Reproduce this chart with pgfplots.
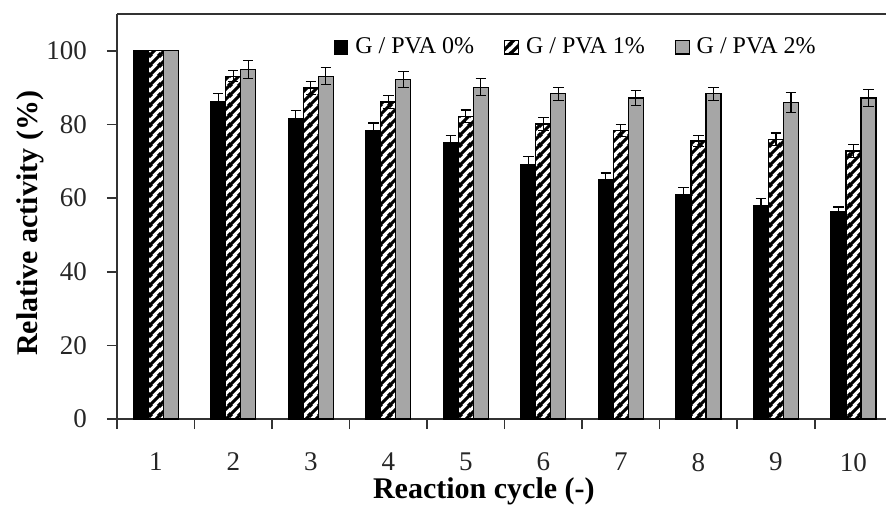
\documentclass[border=0pt]{standalone}
\usepackage{fontspec}
\setmainfont{Liberation Serif}
\usepackage{pgfplots}
\usepackage{pgfplotstable}
\pgfplotsset{compat=1.18}
\usetikzlibrary{patterns.meta}

\tikzdeclarepattern{
  name=thickstripes,
  bounding box={(0,0) and (5pt,5pt)},
  tile size={(5pt,5pt)},
  code={
    \draw[line width=1.7pt] (-1pt,-1pt) -- (6pt,6pt);
    \draw[line width=1.7pt] (-1pt,4pt) -- (1pt,6pt);
    \draw[line width=1.7pt] (4pt,-1pt) -- (6pt,1pt);
  }
}

\definecolor{bargray}{RGB}{166,166,166}

% cycle, mean and error for each PVA content
\pgfplotstableread{
cycle a   ea  b    eb  c    ec
1   100.0 0.0 100.0 0.0 100.0 0.0
2   86.2  2.2 93.1  1.5 94.9  2.5
3   81.5  2.2 89.9  1.8 93.1  2.3
4   78.2  2.2 86.1  1.7 92.2  2.2
5   75.1  2.0 82.2  1.7 90.1  2.3
6   69.0  2.2 80.1  1.8 88.3  1.8
7   65.1  1.7 78.3  1.6 87.2  2.0
8   61.0  1.9 75.5  1.5 88.3  1.8
9   58.0  1.9 76.0  1.7 86.0  2.7
10  56.3  1.3 72.8  1.7 87.2  2.4
}\datatable

\begin{document}
\begin{tikzpicture}
\path[use as bounding box] (-58.5pt,-47.5pt) rectangle (384.5pt,209.5pt);
\begin{axis}[
    at={(0,0)}, anchor=south west,
    scale only axis,
    width=384.5pt, height=202.5pt,
    xmin=0.5, xmax=10.42,
    ymin=0, ymax=110,
    axis x line=box, axis y line*=left,
    axis line style={line width=0.8pt, black!80, -},
    ybar=0pt, bar width=7.5pt,
    xtick={1,...,10},
    major x tick style={draw=none},
    minor xtick={0.5,1.5,...,9.5},
    minor x tick style={line width=0.8pt, black!80},
    minor tick length=5pt,
    xtick pos=bottom,
    ytick={0,20,...,100},
    ytick pos=left,
    ytick style={line width=0.8pt, black!80},
    major tick length=5pt,
    tick align=outside,
    /pgf/number format/assume math mode=true,
    ticklabel style={font=\fontsize{13.5}{13.5}\selectfont, black!85},
    xticklabel style={yshift=-8.5pt},
    yticklabel style={xshift=-6.5pt},
    xlabel={\textbf{Reaction cycle (-)}},
    ylabel={\textbf{Relative activity (\%)}},
    label style={font=\fontsize{15}{15}\selectfont},
    xlabel style={at={(axis description cs:0.477,0)}, anchor=north, yshift=-26pt},
    ylabel style={at={(axis description cs:-0.1131,0.483)}, anchor=center},
    error bars/y dir=both, error bars/y explicit,
    error bars/error bar style={line width=0.6pt},
    error bars/error mark options={rotate=90, mark size=2.6pt, line width=0.6pt},
    legend style={at={(axis description cs:0.281,0.918)}, anchor=west,
        draw=none, fill=none, inner sep=0pt,
        font=\fontsize{12}{12}\selectfont,
        /tikz/every odd column/.append style={column sep=1.5pt},
        /tikz/every even column/.append style={column sep=13pt}},
    legend columns=3,
    legend image code/.code={\draw[#1] (0pt,-3.4pt) rectangle (6.8pt,3.4pt);},
]
\addplot[draw=black, line width=0.6pt, fill=black]
    table[x=cycle, y=a, y error=ea] {\datatable};
\addlegendentry{G / PVA 0\%}
\addplot[draw=black, line width=0.6pt, fill=white, pattern=thickstripes, pattern color=black]
    table[x=cycle, y=b, y error=eb] {\datatable};
\addlegendentry{G / PVA 1\%}
\addplot[draw=black, line width=0.6pt, fill=bargray]
    table[x=cycle, y=c, y error=ec] {\datatable};
\addlegendentry{G / PVA 2\%}
\end{axis}
\end{tikzpicture}
\end{document}
